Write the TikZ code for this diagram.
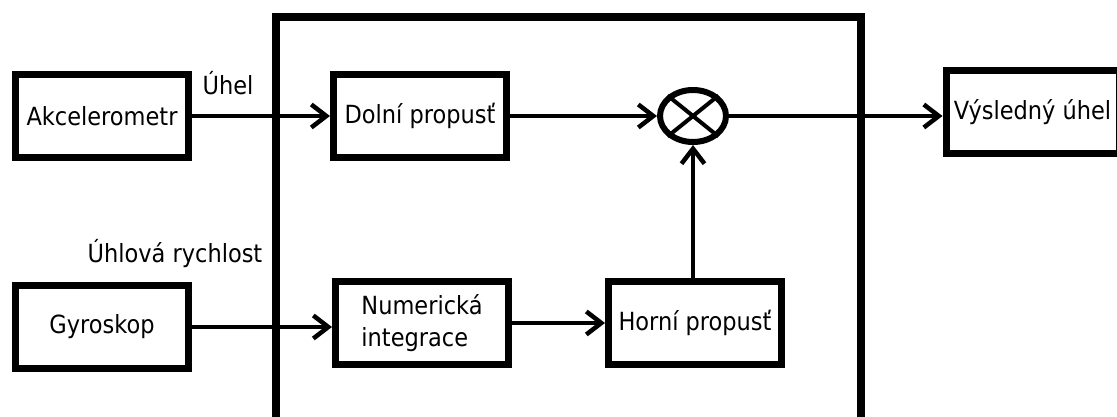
\documentclass[tikz,border=0pt]{standalone}
\usepackage{fontspec}
\setmainfont{DejaVu Sans Condensed}
\usetikzlibrary{arrows.meta,shapes.geometric}

\begin{document}
\begin{tikzpicture}[x=1pt,y=-1pt,
  font=\fontsize{25}{32}\selectfont,
  blk/.style={draw, line width=7pt, minimum width=173pt, minimum height=83pt,
              inner sep=0pt, align=center},
  frame/.style={draw, line width=8pt, inner sep=0pt},
  conn/.style={line width=4pt,
               -{Straight Barb[length=15pt,width=23pt,line width=4.5pt]}},
  plain/.style={line width=4pt},
  lbl/.style={inner sep=0pt, anchor=base}]

  \useasboundingbox (0,0) rectangle (1117,417);
  \clip (0,0) rectangle (1117,417);

  % processing unit enclosing the filters (open at the lower edge)
  \node[frame, minimum width=584.5pt, minimum height=407.5pt] (sys) at (568.25,221.25) {};

  % sensors
  \node[blk] (akc) at (102,116) {Akcelerometr};
  \node[blk] (gyr) at (102,327) {Gyroskop};

  % filter chain
  \node[blk] (dol) at (420,116) {Dolní propusť};
  \node[blk, align=left] (num) at (422,323) {Numerická\\integrace};
  \node[blk] (hor) at (695,323) {Horní propusť};

  % summing junction
  \node[draw, ellipse, line width=6pt, minimum width=66pt, minimum height=52pt,
        inner sep=0pt] (sum) at (693,116) {};
  \draw[plain] (sum.north west) -- (sum.south east);
  \draw[plain] (sum.north east) -- (sum.south west);

  % result
  \node[blk] (vys) at (1032.5,112) {Výsledný úhel};

  % signal labels
  \node[lbl] (lu) at (228,95) {Úhel};
  \node[lbl] (lw) at (175,262) {Úhlová rychlost};

  % connectors
  \draw[conn] (akc.east) -- (dol.west);
  \draw[conn] (dol.east) -- (sum.west);
  \draw[conn] (sum.east) -- (sum.east -| vys.west);
  \draw[conn] (gyr.east) -- (gyr.east -| num.west);
  \draw[conn] (num.east) -- (num.east -| hor.west);
  \draw[conn] (sum.south |- hor.north) -- (sum.south);
\end{tikzpicture}
\end{document}
